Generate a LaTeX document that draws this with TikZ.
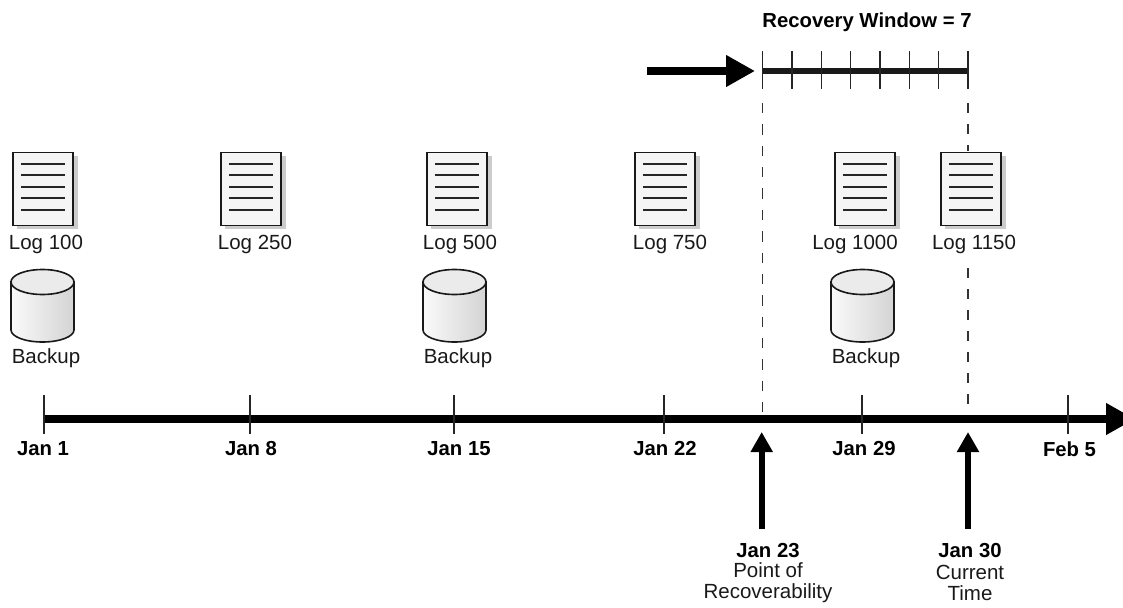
\documentclass[tikz,border=0pt]{standalone}
\usepackage{fontspec}
\setmainfont{Liberation Sans}
\usetikzlibrary{arrows.meta}
\tikzset{
  txt/.style={font=\fontsize{20.5}{21}\selectfont,inner sep=0pt,align=center,text=black!90},
  boldtxt/.style={font=\fontsize{20.3}{21}\selectfont\bfseries,inner sep=0pt,align=center,text=black},
  docbox/.style={draw=black!90,line width=1.7pt,fill=black!4,minimum width=60pt,minimum height=73pt,inner sep=0pt},
  docshadow/.style={fill=black!20,draw=none},
  docline/.style={draw=black!85,line width=1.1pt},
  cylside/.style={draw=black!90,line width=1.6pt,left color=black!2,right color=black!17},
  cyltop/.style={draw=black!90,line width=1.6pt,fill=black!8},
  tick/.style={draw=black!85,line width=1.4pt},
  guide/.style={draw=black!80,line width=1.2pt},
  bigarrow/.style={draw=black,line width=8pt,-{Triangle[length=29pt,width=30pt]}},
  uparrow/.style={draw=black,line width=6pt,-{Triangle[length=20pt,width=21pt]}},
  spanline/.style={draw=black!90,line width=5.5pt},
}
\newcommand{\docicon}[4]{%
  \fill[docshadow] (#2+5,156) rectangle (#2+66,229);
  \node[docbox,anchor=north west] (#1) at (#2,151.5) {};
  \foreach \ly in {164,175,187,198,210}{\draw[docline] (#2+9,\ly) -- (#2+53,\ly);}
  \node[txt] (#1label) at (#3,244) {#4};
}
\newcommand{\cylicon}[3]{%
  \path[cylside] (#2,282) -- (#2,330) arc[start angle=180,end angle=360,x radius=31.5pt,y radius=12pt] -- (#2+63,282) -- cycle;
  \path[cyltop] (#2+31.5,282) ellipse[x radius=31.5pt,y radius=12.5pt];
  \node[txt] (#1label) at (#3,358) {Backup};
}
\begin{document}
\begin{tikzpicture}[x=1pt,y=-1pt]
\useasboundingbox (0,0) rectangle (1123,607);
\clip (0,0) rectangle (1123,607);

% anchors
\coordinate (winL) at (762.7,71);
\coordinate (winR) at (968,71);
\coordinate (guideLtop) at (762.7,103);
\coordinate (guideLbot) at (762.7,412);
\coordinate (guideRtop) at (968,103);
\coordinate (guideRmid) at (968,151);
\coordinate (guideRres) at (968,268);
\coordinate (guideRbot) at (968,407);

% dashed guides
\draw[guide,dash pattern=on 10.4pt off 10.96pt] (guideLtop) -- (guideLbot);
\draw[guide,dash pattern=on 10pt off 11pt] (guideRtop) -- (guideRmid);
\draw[guide,dash pattern=on 10pt off 11pt] (guideRres) -- (guideRbot);

% recovery window
\node[boldtxt] (wintitle) at (867,22) {Recovery Window = 7};
\coordinate (winarrowstart) at (647,71);
\coordinate (winarrowtip) at (755,71);
\draw[bigarrow] (winarrowstart) -- (winarrowtip);
\draw[spanline] (winL) -- (winR);
\foreach \i in {0,...,7}{
  \coordinate (wt\i a) at (762.7+29.33*\i,51);
  \coordinate (wt\i b) at (762.7+29.33*\i,89);
  \draw[tick] (wt\i a) -- (wt\i b);
}

% log icons
\docicon{logA}{12}{46}{Log 100}
\docicon{logB}{220}{255}{Log 250}
\docicon{logC}{426}{460}{Log 500}
\docicon{logD}{634}{670}{Log 750}
\docicon{logE}{834}{855}{Log 1000}
\docicon{logF}{940}{974}{Log 1150}

% backup icons
\cylicon{bkA}{11}{46}
\cylicon{bkB}{423}{458}
\cylicon{bkC}{831}{866}

% timeline
\coordinate (tlstart) at (44,419);
\coordinate (tltip) at (1135,419);
\draw[bigarrow] (tlstart) -- (tltip);
\foreach \n/\tx/\lx/\lab in {a/44/43/Jan 1,b/250/251/Jan 8,c/454/459/Jan 15,d/664/665/Jan 22,e/862/864/Jan 29,f/1068/1069.5/Feb 5}{
  \coordinate (tick\n a) at (\tx,395);
  \coordinate (tick\n b) at (\tx,434);
  \draw[tick] (tick\n a) -- (tick\n b);
  \node[boldtxt] (date\n) at (\lx,449) {\lab};
}

% up arrows
\node[boldtxt] (por) at (768,551) {Jan 23};
\node[txt] (porsub) at (768,583) {Point of\\Recoverability};
\node[boldtxt] (cur) at (970,551) {Jan 30};
\node[txt] (cursub) at (970,583) {Current\\Time};
\coordinate (upLs) at (761.7,529);
\coordinate (upLt) at (761.7,432);
\coordinate (upRs) at (968,529);
\coordinate (upRt) at (968,432);
\draw[uparrow] (upLs) -- (upLt);
\draw[uparrow] (upRs) -- (upRt);
\end{tikzpicture}
\end{document}
